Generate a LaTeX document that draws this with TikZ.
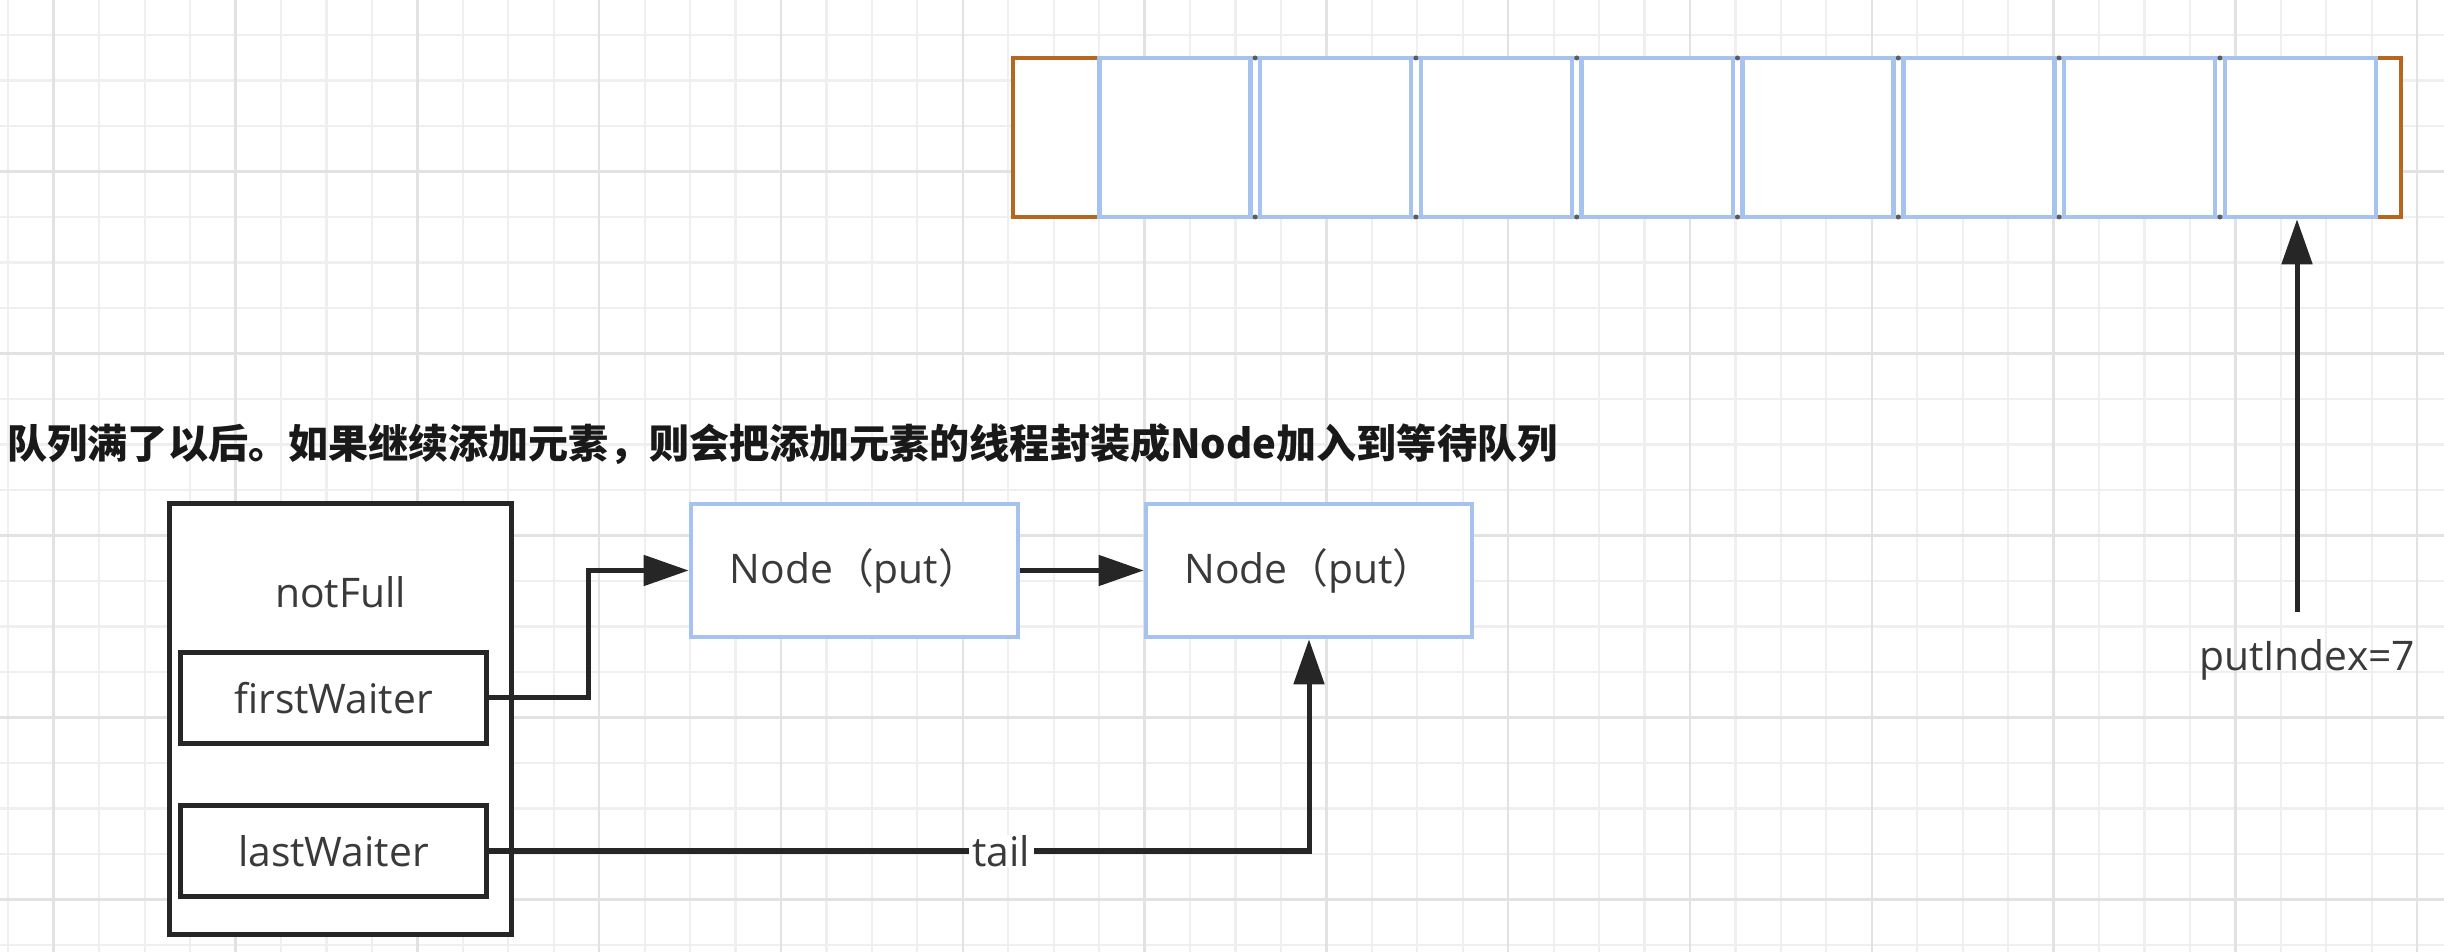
\documentclass[tikz,border=0pt]{standalone}
\usepackage{fontspec}
\setmainfont{Open Sans}
\newfontfamily\cjk{Noto Sans CJK SC}
\usetikzlibrary{arrows.meta,calc}
\definecolor{gridminor}{HTML}{EFEFEF}
\definecolor{gridmajor}{HTML}{E2E2E2}
\definecolor{cellblue}{HTML}{A6C3F0}
\definecolor{arrorange}{HTML}{B5671E}
\definecolor{ink}{HTML}{262626}
\definecolor{txt}{HTML}{3A3A3A}
\newcommand\lblfont{\fontsize{11.6pt}{13pt}\selectfont}
\begin{document}
\begin{tikzpicture}[x=0.01cm,y=-0.01cm,
  lbl/.style={font=\lblfont, text=txt, inner sep=0pt},
  blackbox/.style={draw=ink, line width=0.05cm, fill=white, inner sep=0pt, font=\lblfont, text=txt},
  bluebox/.style={draw=cellblue, line width=0.045cm, fill=white, inner sep=0pt, font=\lblfont, text=txt},
  arr/.style={draw=ink, line width=0.05cm, -{Triangle[length=0.45cm,width=0.3cm]}},
  gmin/.style={draw=gridminor, line width=0.022cm},
  gmaj/.style={draw=gridmajor, line width=0.025cm},
]
\useasboundingbox (0,0) rectangle (2444,952);
\fill[white] (0,0) rectangle (2444,952);
% grid
\foreach \k in {0,...,53} \draw[gmin] ({8.3+45.45*\k},0) -- ({8.3+45.45*\k},952);
\foreach \k in {0,...,20} \draw[gmin] (0,{35+45.5*\k}) -- (2444,{35+45.5*\k});
\foreach \k in {1,5,...,53} \draw[gmaj] ({8.3+45.45*\k},0) -- ({8.3+45.45*\k},952);
\foreach \k in {3,7,...,19} \draw[gmaj] (0,{35+45.5*\k}) -- (2444,{35+45.5*\k});

% array
\draw[arrorange, line width=0.045cm, fill=white] (1013,58) rectangle (2401,217);
\draw[cellblue, line width=0.045cm, fill=white] (1099,58) rectangle (2376,217);
\foreach \i in {1,...,8}
  \node[bluebox, minimum width=1.51cm, minimum height=1.59cm] (c\i) at ({1174.8+160.8*(\i-1)},137.5) {};
\foreach \i in {1,...,7} {
  \fill[ink!75] ({1255.1+160.8*(\i-1)},58) circle (2.5);
  \fill[ink!75] ({1255.1+160.8*(\i-1)},217) circle (2.5);
}

% title
\node[anchor=west, inner sep=0pt, text=black!90] (title) at (7,444)
  {\cjk\bfseries\fontsize{11.4pt}{13pt}\selectfont 队列满了以后。如果继续添加元素，则会把添加元素的线程封装成Node加入到等待队列};

% condition box
\node[blackbox, minimum width=3.42cm, minimum height=4.30cm] (nf) at (340.6,719) {};
\node[lbl] (nft) at (340.6,592) {notFull};
\node[blackbox, minimum width=3.05cm, minimum height=0.90cm] (fw) at (333.5,698) {firstWaiter};
\node[blackbox, minimum width=3.05cm, minimum height=0.90cm] (lw) at (333.5,851) {lastWaiter};

% queue nodes
\node[bluebox, minimum width=3.27cm, minimum height=1.33cm] (n1) at (854.5,570.5) {Node{\cjk（}put{\cjk）}};
\node[bluebox, minimum width=3.26cm, minimum height=1.33cm] (n2) at (1309,570.5) {Node{\cjk（}put{\cjk）}};

% connectors
\draw[arr] (fw.east) -- ++(100,0) |- (n1.west);
\draw[arr] (n1.east) -- (n2.west);
\draw[arr] (lw.east) -| node[pos=0.3125, lbl, fill=white, inner xsep=1pt] {tail} (n2.south);

% putIndex
\node[lbl] (pi) at (2307,660) {putIndex=7};
\coordinate (pistart) at (2297,612);
\draw[arr] (pistart) -- (pistart |- c8.south);
\end{tikzpicture}
\end{document}
